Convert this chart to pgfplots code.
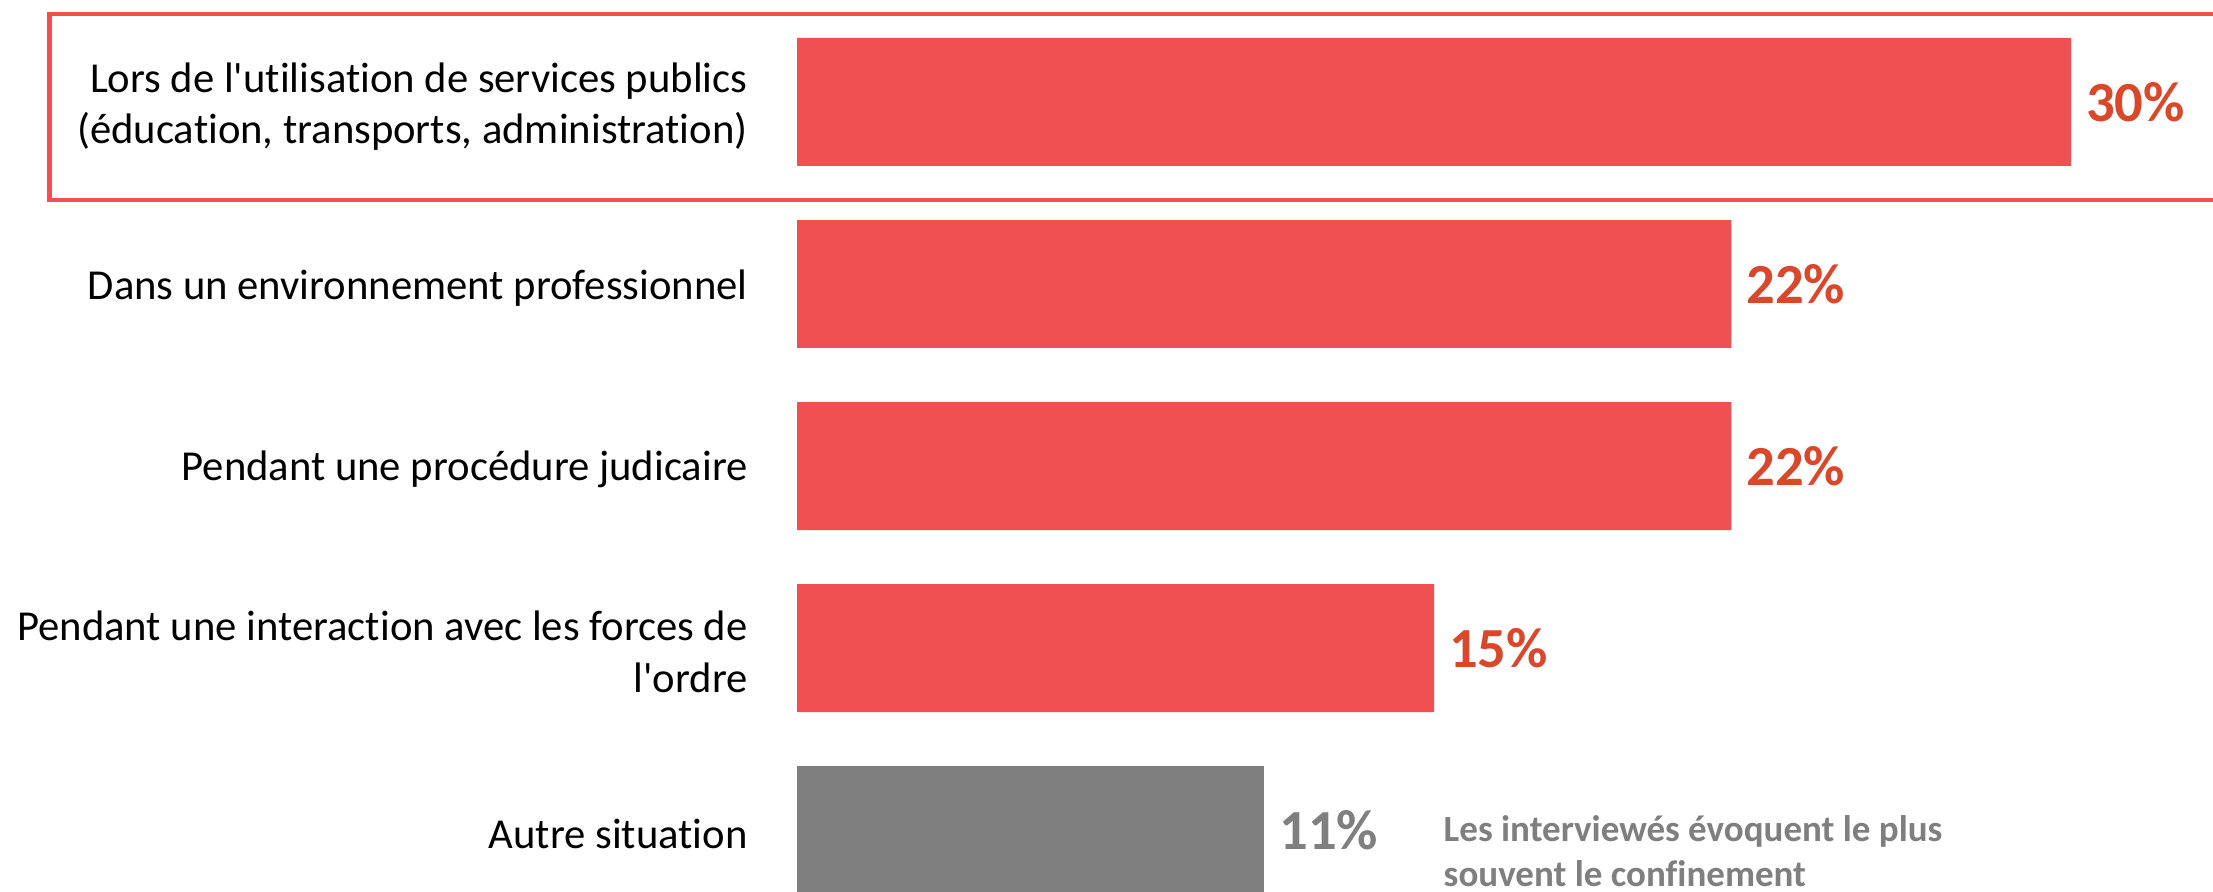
\documentclass[border=0pt]{standalone}
\usepackage{fontspec}
\setmainfont{Carlito}[Ligatures={NoCommon}]
\usepackage{pgfplots}
\pgfplotsset{compat=1.18}
\definecolor{barred}{HTML}{F05052}
\definecolor{valred}{HTML}{D9482B}
\definecolor{bargray}{HTML}{7F7F7F}

\begin{document}
\begin{tikzpicture}
\begin{axis}[
  width=663.9pt, height=267.6pt, scale only axis,
  xmin=-18.77, xmax=33.34,
  ymin=-0.56, ymax=4.34, y dir=reverse,
  hide axis,
  xbar, bar width=0.703, bar shift=0pt,
  point meta=x,
  /pgf/number format/assume math mode=true,
  nodes near coords={\pgfmathprintnumber{\pgfplotspointmeta}\%},
  nodes near coords style={font=\fontsize{17}{20}\selectfont\bfseries, anchor=west, inner xsep=4.3pt},
]
% highlighted first category
\draw[barred, line width=1.35pt] (axis cs:-17.61,-0.484) rectangle (axis cs:40,0.538);

\addplot[fill=barred, draw=none, nodes near coords style={text=valred}]
  coordinates {(30,0) (22,1) (22,2) (15,3)};
\addplot[fill=bargray, draw=none, nodes near coords style={text=bargray}]
  coordinates {(11,4)};

\tikzset{cat/.style={anchor=east, align=right, inner sep=0pt,
  font=\fontsize{12.8}{15.5}\selectfont}}
\node[cat] at (axis cs:-1.15,0.025) {Lors de l\textquotesingle utilisation de services publics\\(éducation, transports, administration)};
\node[cat] at (axis cs:-1.15,1.02) {Dans un environnement professionnel};
\node[cat] at (axis cs:-1.15,2.02) {Pendant une procédure judicaire};
\node[cat] at (axis cs:-1.15,3.02) {Pendant une interaction avec les forces de\\l\textquotesingle ordre};
\node[cat] at (axis cs:-1.15,4.02) {Autre situation};

\node[anchor=north west, align=left, inner sep=0pt, text=bargray,
  font=\fontsize{11.1}{13.6}\selectfont\bfseries]
  at (axis cs:15.21,3.915) {Les interviewés évoquent le plus\\souvent le confinement};
\end{axis}
\pgfresetboundingbox
\path[use as bounding box] (current axis.south west) rectangle (current axis.north east);
\end{tikzpicture}
\end{document}
